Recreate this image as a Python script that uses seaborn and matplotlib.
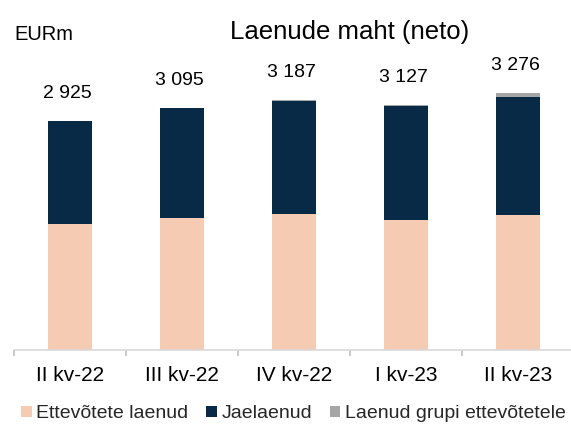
import numpy as np
import pandas as pd
import matplotlib
matplotlib.use("Agg")
import matplotlib.pyplot as plt
import seaborn as sns
from matplotlib.patches import Patch
from matplotlib.ticker import FixedLocator

# data (EURm)
quarters = ["II kv-22", "III kv-22", "IV kv-22", "I kv-23", "II kv-23"]
totals = [2925, 3095, 3187, 3127, 3276]
ettevotete = [1601, 1686, 1733, 1660, 1720]
grupi = [3, 4, 10, 8, 43]
jaelaenud = [t - e - g for t, e, g in zip(totals, ettevotete, grupi)]

series_names = ["Ettevõtete laenud", "Jaelaenud", "Laenud grupi ettevõtetele"]
colors = ["#F5CBB4", "#082A47", "#A6A6A6"]

sns.set_theme(style="white")
plt.rcParams["font.family"] = ["Liberation Sans", "DejaVu Sans"]

df = pd.DataFrame({
    "quarter": quarters,
    "ettevotete": ettevotete,
    "jae": jaelaenud,
    "grupi": grupi,
})
# cumulative heights, drawn back to front
df["top_jae"] = df["ettevotete"] + df["jae"]
df["top_all"] = df["top_jae"] + df["grupi"]

fig = plt.figure(figsize=(5.71, 4.25), dpi=100)
ax = fig.add_axes([14 / 571, 75.5 / 425, 560 / 571, 349.5 / 425])

bw = 0.39
sns.barplot(data=df, x="quarter", y="top_all", color=colors[2], width=bw,
            linewidth=0, saturation=1, ax=ax)
sns.barplot(data=df, x="quarter", y="top_jae", color=colors[1], width=bw,
            linewidth=0, saturation=1, ax=ax)
sns.barplot(data=df, x="quarter", y="ettevotete", color=colors[0], width=bw,
            linewidth=0, saturation=1, ax=ax)

# total labels above bars
for i, t in enumerate(totals):
    ax.annotate(f"{t:,}".replace(",", " "), (i, t), xytext=(-2, 16.5),
                textcoords="offset points", ha="center", va="baseline",
                fontsize=14, color="#000000")

ax.set_xlim(-0.5, 4.5)
ax.set_ylim(0, 4470)
ax.set_xlabel("")
ax.set_ylabel("")
ax.set_yticks([])
for s in ["top", "right", "left"]:
    ax.spines[s].set_visible(False)
ax.spines["bottom"].set_color("#D9D9D9")
ax.spines["bottom"].set_linewidth(1.2)

ax.xaxis.set_minor_locator(FixedLocator(np.arange(-0.5, 5, 1)))
ax.tick_params(axis="x", which="major", length=0, pad=12, labelsize=15,
               labelcolor="#000000")
ax.tick_params(axis="x", which="minor", length=4.5, width=1.2,
               color="#BFBFBF", direction="out", bottom=True)

fig.text(350 / 571, 1 - 32 / 425, "Laenude maht (neto)", ha="center",
         va="center", fontsize=18.5, color="#000000")
fig.text(14 / 571, 1 - 35 / 425, "EURm", ha="left", va="center",
         fontsize=14.5, color="#000000")

handles = [Patch(facecolor=c, edgecolor="none") for c in colors]
fig.legend(handles, series_names, loc="center", ncol=3,
           bbox_to_anchor=(0.5 + 8 / 571, 1 - 414 / 425), frameon=False,
           fontsize=14, handlelength=0.55, handleheight=0.55,
           handletextpad=0.25, columnspacing=0.9, borderpad=0,
           borderaxespad=0)

fig.savefig("out.png", dpi=100)
